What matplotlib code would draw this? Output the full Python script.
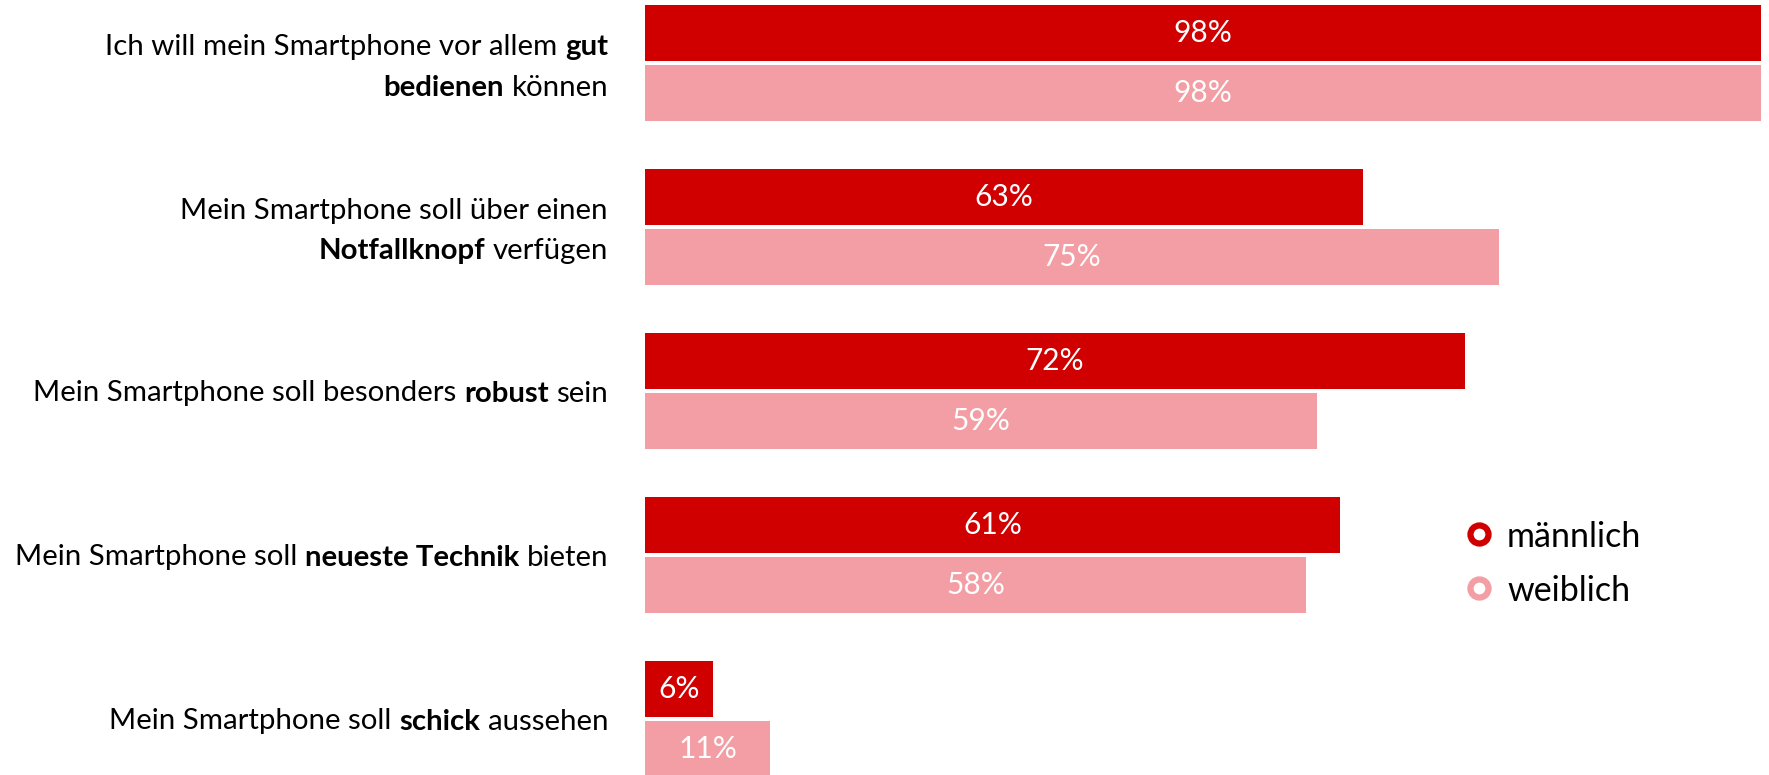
import matplotlib
matplotlib.use("Agg")
import matplotlib.pyplot as plt
from matplotlib.lines import Line2D

# ---- data ----
categories = [
    [[("Ich will mein Smartphone vor allem ", False), ("gut", True)],
     [("bedienen", True), (" können", False)]],
    [[("Mein Smartphone soll über einen", False)],
     [("Notfallknopf", True), (" verfügen", False)]],
    [[("Mein Smartphone soll besonders ", False), ("robust", True), (" sein", False)]],
    [[("Mein Smartphone soll ", False), ("neueste Technik", True), (" bieten", False)]],
    [[("Mein Smartphone soll ", False), ("schick", True), (" aussehen", False)]],
]
maennlich = [98, 63, 72, 61, 6]
weiblich = [98, 75, 59, 58, 11]
series_names = ["männlich", "weiblich"]
colors = ["#D00000", "#F29EA4"]

FONT = "Lato"
W, H = 1769, 775
fig = plt.figure(figsize=(W / 100, H / 100), dpi=100)

# axes: x=0 at pixel 645, 11.39 px per percent
x0_px = 645
px_per = 11.39
ax = fig.add_axes([x0_px / W, 0, 1 - x0_px / W, 1])
ax.set_xlim(0, (W - x0_px) / px_per)
group_px = 164.0
first_center = 63.0
ax.set_ylim((H - first_center) / group_px, -first_center / group_px)
ax.axis("off")

slot = 60 / group_px
bh = 56 / group_px
n = len(maennlich)
ypos = list(range(n))
for vals, off, col in [(maennlich, -0.5, colors[0]), (weiblich, 0.5, colors[1])]:
    ys = [y + off * slot for y in ypos]
    bars = ax.barh(ys, vals, height=bh, color=col, edgecolor="none")
    for b, v, y in zip(bars, vals, ys):
        ax.text(v / 2, y, f"{v}%", ha="center", va="center", color="white",
                fontsize=21.5, family=FONT)

# category labels with mixed bold segments, right-aligned
fig.canvas.draw()
renderer = fig.canvas.get_renderer()
label_fs = 21.2

def width_px(s, bold):
    t = fig.text(0, 0, s, fontsize=label_fs, family=FONT,
                 fontweight="bold" if bold else "normal")
    w = t.get_window_extent(renderer).width
    t.remove()
    return w

space_w = {b: width_px("x x", b) - width_px("xx", b) for b in (False, True)}

def seg_width(s, bold):
    lead = len(s) - len(s.lstrip(" "))
    trail = len(s) - len(s.rstrip(" "))
    core = s.strip(" ")
    return (width_px(core, bold) if core else 0) + (lead + trail) * space_w[bold], lead

right_px = 608
line_gap = 40
for gi, lines in enumerate(categories):
    center_px = first_center + gi * group_px + (2 if len(lines) > 1 else 0)
    nl = len(lines)
    for li, segs in enumerate(lines):
        y_px = center_px + (li - (nl - 1) / 2) * line_gap
        widths = [seg_width(s, b) for s, b in segs]
        total = sum(w for w, _ in widths)
        x = right_px - total
        for (s, b), (w, lead) in zip(segs, widths):
            core = s.strip(" ")
            fig.text((x + lead * space_w[b]) / W, 1 - y_px / H, core,
                     fontsize=label_fs, family=FONT,
                     fontweight="bold" if b else "normal",
                     ha="left", va="center_baseline", color="black")
            x += w

# legend
leg_x = 1479
leg_text_x = 1507
for i, (name, col) in enumerate(zip(series_names, colors)):
    y_px = 534 + i * 54
    fig.add_artist(Line2D([leg_x / W], [1 - y_px / H], marker="o", markersize=13,
                          markerfacecolor="white", markeredgecolor=col,
                          markeredgewidth=4.5, linestyle="none",
                          transform=fig.transFigure))
    fig.text(leg_text_x / W, 1 - y_px / H, name, fontsize=24.5, family=FONT,
             ha="left", va="center_baseline", color="black")

fig.savefig("out.png", dpi=100, facecolor="white")
